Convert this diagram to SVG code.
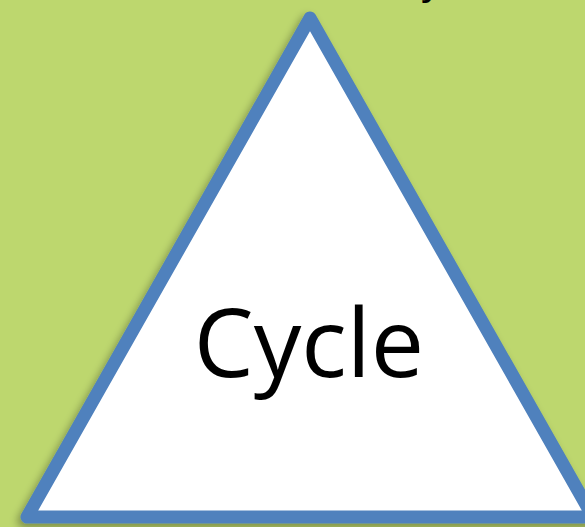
<svg xmlns="http://www.w3.org/2000/svg" width="585" height="527" viewBox="0 0 585 527">
<defs>
<style>
.lbl{font-family:"Open Sans","Noto Sans",sans-serif;fill:#000}
</style>
<filter id="sh" x="-10%" y="-10%" width="120%" height="120%">
<feGaussianBlur in="SourceAlpha" stdDeviation="4"/>
<feOffset dx="-3" dy="4" result="b"/>
<feComponentTransfer><feFuncA type="linear" slope="0.35"/></feComponentTransfer>
<feMerge><feMergeNode/><feMergeNode in="SourceGraphic"/></feMerge>
</filter>
</defs>
<rect width="585" height="527" fill="#bdd76e"/>
<text class="lbl" x="432" y="-7" font-size="40" text-anchor="middle">y</text>
<g id="cycle">
<polygon points="310,18 27,517 593,517" fill="#ffffff" stroke="#4f81bd" stroke-width="13" stroke-linejoin="round" filter="url(#sh)"/>
<text class="lbl" x="309" y="377" font-size="95" text-anchor="middle">Cycle</text>
</g>
<g id="connectors"/>
</svg>
